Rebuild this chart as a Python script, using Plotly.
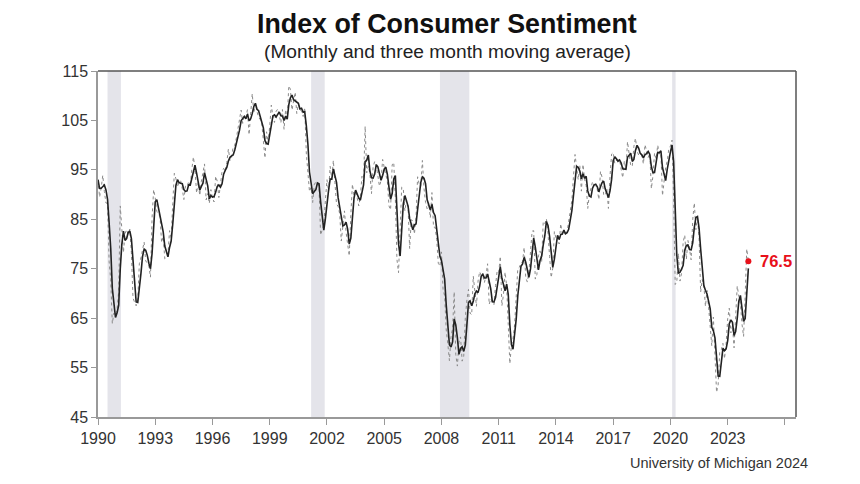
import plotly.graph_objects as go
import numpy as np

# Monthly Index of Consumer Sentiment, Jan 1990 onward
years = list(range(1990, 2025))
monthly = {
    1990: [93.0, 89.5, 91.3, 93.9, 90.6, 88.3, 88.2, 76.4, 72.8, 63.9, 66.0, 65.5],
    1991: [66.8, 70.4, 87.7, 81.8, 78.3, 82.1, 82.9, 82.0, 83.0, 78.3, 69.1, 68.2],
    1992: [67.5, 68.8, 76.0, 77.2, 79.2, 80.4, 76.6, 76.1, 75.6, 73.3, 85.3, 91.0],
    1993: [89.3, 86.6, 85.9, 85.6, 80.3, 81.5, 77.0, 77.3, 77.9, 82.7, 81.2, 88.2],
    1994: [94.3, 93.2, 91.5, 92.6, 92.8, 91.2, 89.0, 91.7, 91.5, 92.7, 91.6, 95.1],
    1995: [97.6, 95.1, 90.3, 92.5, 89.8, 92.7, 94.4, 96.2, 88.9, 90.2, 88.2, 91.0],
    1996: [89.3, 88.5, 93.7, 92.7, 89.4, 92.4, 94.7, 95.3, 94.7, 96.5, 99.2, 96.9],
    1997: [97.4, 99.7, 100.0, 101.4, 103.2, 104.5, 107.1, 104.4, 106.0, 105.6, 107.2, 102.1],
    1998: [106.6, 110.4, 106.5, 108.5, 106.8, 105.6, 105.2, 104.4, 100.9, 97.4, 102.7, 100.5],
    1999: [103.9, 108.1, 105.7, 104.6, 106.8, 107.3, 106.0, 104.5, 107.2, 103.2, 107.2, 105.4],
    2000: [112.0, 111.3, 107.1, 109.2, 110.7, 106.4, 108.3, 107.3, 106.8, 105.8, 107.6, 98.4],
    2001: [94.7, 90.6, 91.5, 88.4, 92.0, 92.6, 92.4, 91.5, 81.8, 82.7, 83.9, 88.8],
    2002: [93.0, 90.7, 95.7, 93.0, 96.9, 92.4, 88.1, 87.6, 86.1, 80.6, 84.2, 86.7],
    2003: [82.4, 79.9, 77.6, 86.0, 92.1, 89.7, 90.9, 89.3, 87.7, 89.6, 93.7, 92.6],
    2004: [103.8, 94.4, 95.8, 94.2, 90.2, 95.6, 96.7, 95.9, 94.2, 91.7, 92.8, 97.1],
    2005: [95.5, 94.1, 92.6, 87.7, 86.9, 96.0, 96.5, 89.1, 76.9, 74.2, 81.6, 91.5],
    2006: [91.2, 86.7, 88.9, 87.4, 79.1, 84.9, 84.7, 82.0, 85.4, 93.6, 92.1, 91.7],
    2007: [96.9, 91.3, 88.4, 87.1, 88.3, 85.3, 90.4, 83.4, 83.4, 80.9, 76.1, 75.5],
    2008: [78.4, 70.8, 69.5, 62.6, 59.8, 56.4, 61.2, 63.0, 70.3, 57.6, 55.3, 60.1],
    2009: [61.2, 56.3, 57.3, 65.1, 68.7, 70.8, 66.0, 65.7, 73.5, 70.6, 67.4, 72.5],
    2010: [74.4, 73.6, 73.6, 72.2, 73.6, 76.0, 67.8, 68.9, 68.2, 67.7, 71.6, 74.5],
    2011: [74.2, 77.5, 67.5, 69.8, 74.3, 71.5, 63.7, 55.8, 59.5, 60.8, 63.7, 69.9],
    2012: [75.0, 75.3, 76.2, 76.4, 79.3, 73.2, 72.3, 74.3, 78.3, 82.6, 82.7, 72.9],
    2013: [73.8, 77.6, 78.6, 76.4, 84.5, 84.1, 85.1, 82.1, 77.5, 73.2, 75.1, 82.5],
    2014: [81.2, 81.6, 80.0, 84.1, 81.9, 82.5, 81.8, 82.5, 84.6, 86.9, 88.8, 93.6],
    2015: [98.1, 95.4, 93.0, 95.9, 90.7, 96.1, 93.1, 91.9, 87.2, 90.0, 91.3, 92.6],
    2016: [92.0, 91.7, 91.0, 89.0, 94.7, 93.5, 90.0, 89.8, 91.2, 87.2, 93.8, 98.2],
    2017: [98.5, 96.3, 96.9, 97.0, 97.1, 95.1, 93.4, 96.8, 95.1, 100.7, 98.5, 95.9],
    2018: [95.7, 99.7, 101.4, 98.8, 98.0, 98.2, 97.9, 96.2, 100.1, 98.6, 97.5, 98.3],
    2019: [91.2, 93.8, 98.4, 97.2, 100.0, 98.2, 98.4, 89.8, 93.2, 95.5, 96.8, 99.3],
    2020: [99.8, 101.0, 89.1, 71.8, 72.3, 78.1, 72.5, 74.1, 80.4, 81.8, 76.9, 80.7],
    2021: [79.0, 76.8, 84.9, 88.3, 82.9, 85.5, 81.2, 70.3, 72.8, 71.7, 67.4, 70.6],
    2022: [67.2, 62.8, 59.4, 65.2, 58.4, 50.0, 51.5, 58.2, 58.6, 59.9, 56.8, 59.7],
    2023: [64.9, 67.0, 62.0, 63.5, 59.0, 64.4, 71.5, 69.4, 67.9, 63.8, 61.3, 69.7],
    2024: [79.0, 76.5],
}

# Recession periods (decimal year start, end)
recession_start = [1990.5, 2001.17, 2007.92, 2020.09]
recession_end = [1991.2, 2001.88, 2009.46, 2020.27]

x_tickvals = list(range(1990, 2027, 3))
x_ticktext = [str(v) for v in range(1990, 2024, 3)] + [""]
y_tickvals = [45, 55, 65, 75, 85, 95, 105, 115]

latest_label = "76.5"

xs, vals = [], []
for yr in years:
    for i, v in enumerate(monthly[yr]):
        xs.append(yr + i / 12.0)
        vals.append(v)
vals = np.array(vals)
ma = np.convolve(vals, np.ones(3) / 3, mode="full")[: len(vals)]
ma[0] = vals[0]
ma[1] = vals[:2].mean()

FONT = "Liberation Sans"
fig = go.Figure()

for s, e in zip(recession_start, recession_end):
    fig.add_vrect(x0=s, x1=e, fillcolor="#e4e4ea", line_width=0, layer="below")

fig.add_trace(go.Scatter(x=xs, y=vals, mode="lines",
                         line=dict(color="#8a8a8a", width=1, dash="dot"),
                         showlegend=False))
fig.add_trace(go.Scatter(x=xs, y=ma, mode="lines",
                         line=dict(color="#222222", width=1.6),
                         showlegend=False))
fig.add_trace(go.Scatter(x=[xs[-1]], y=[vals[-1]], mode="markers",
                         marker=dict(color="#e8101a", size=6),
                         showlegend=False))

fig.add_annotation(x=xs[-1], y=vals[-1], text="<b>" + latest_label + "</b>",
                   showarrow=False, xanchor="left", xshift=10,
                   font=dict(color="#e8101a", size=16.5, family=FONT))

# top and right frame lines
fig.add_shape(type="line", xref="paper", yref="paper", x0=0, x1=1, y0=1, y1=1,
              line=dict(color="#555555", width=1.5))
fig.add_shape(type="line", xref="paper", yref="paper", x0=1, x1=1, y0=0, y1=1,
              line=dict(color="#555555", width=1.5))

fig.add_annotation(xref="paper", yref="paper", x=0.5, y=1.0, yshift=47,
                   text="<b>Index of Consumer Sentiment</b>", showarrow=False,
                   xanchor="center", yanchor="middle",
                   font=dict(size=26.8, color="#111111", family=FONT))
fig.add_annotation(xref="paper", yref="paper", x=0.5, y=1.0, yshift=20,
                   text="(Monthly and three month moving average)", showarrow=False,
                   xanchor="center", yanchor="middle",
                   font=dict(size=19.2, color="#222222", family=FONT))
fig.add_annotation(xref="paper", yref="paper", x=1.0, y=0, yshift=-46, xshift=14,
                   text="University of Michigan 2024", showarrow=False,
                   xanchor="right", yanchor="middle",
                   font=dict(size=14.5, color="#333333", family=FONT))

fig.update_layout(
    width=844, height=468,
    margin=dict(l=90, r=56, t=63, b=59),
    paper_bgcolor="white", plot_bgcolor="white",
    font=dict(family=FONT, color="#333333", size=15),
    xaxis=dict(range=[1990, 2026.58], tickvals=x_tickvals, ticktext=x_ticktext,
               showgrid=False, zeroline=False, showline=True, linecolor="#999999",
               linewidth=1.5, ticks="outside", ticklen=6, tickcolor="#999999",
               tickfont=dict(size=16, color="#333333")),
    yaxis=dict(range=[45, 115], tickvals=y_tickvals, showgrid=False, zeroline=False,
               showline=True, linecolor="#999999", linewidth=1.5, ticks="outside",
               ticklen=5, tickcolor="#999999", tickfont=dict(size=16, color="#333333")),
)

fig.write_html("out.html")
